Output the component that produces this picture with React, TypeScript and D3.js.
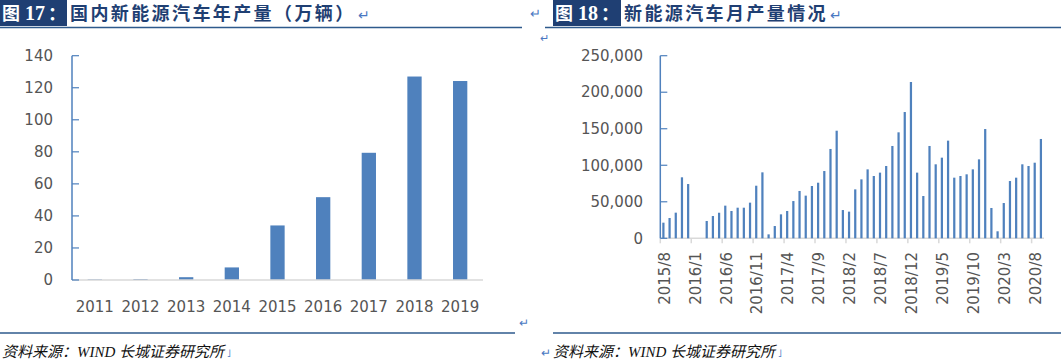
import React from "react";
import * as d3 from "d3";

// annual production, 10k vehicles
const years = ["2011", "2012", "2013", "2014", "2015", "2016", "2017", "2018", "2019"];
const yearValues = [0.4, 0.6, 1.75, 7.85, 34.05, 51.7, 79.4, 127.0, 124.2];
const yearTicks = [0, 20, 40, 60, 80, 100, 120, 140];

// monthly production, vehicles (2016/1 and 2016/2 have no data)
const months = [
  "2015/8", "2015/9", "2015/10", "2015/11", "2015/12",
  "2016/1", "2016/2", "2016/3", "2016/4", "2016/5", "2016/6", "2016/7", "2016/8", "2016/9", "2016/10", "2016/11", "2016/12",
  "2017/1", "2017/2", "2017/3", "2017/4", "2017/5", "2017/6", "2017/7", "2017/8", "2017/9", "2017/10", "2017/11", "2017/12",
  "2018/1", "2018/2", "2018/3", "2018/4", "2018/5", "2018/6", "2018/7", "2018/8", "2018/9", "2018/10", "2018/11", "2018/12",
  "2019/1", "2019/2", "2019/3", "2019/4", "2019/5", "2019/6", "2019/7", "2019/8", "2019/9", "2019/10", "2019/11", "2019/12",
  "2020/1", "2020/2", "2020/3", "2020/4", "2020/5", "2020/6", "2020/7", "2020/8", "2020/9",
];
const monthValues: (number | null)[] = [
  21400, 27800, 35100, 83500, 74300,
  null, null, 23700, 30500, 35000, 44700, 37400, 41900, 41900, 48800, 72000, 90300,
  5400, 16800, 32800, 37400, 51000, 64800, 58400, 71600, 76100, 92100, 122300, 147300,
  38700, 36500, 67000, 80700, 94400, 85300, 89900, 99000, 126400, 145100, 172900, 214000,
  89900, 57900, 126400, 101300, 110400, 133700, 83000, 85300, 87600, 94400, 108100, 149600,
  41500, 9600, 48300, 78400, 83000, 101300, 99000, 103500, 136000,
];
const monthTicks = [0, 50000, 100000, 150000, 200000, 250000];
const monthLabelEvery = 5;

const barColor = "#4f81bd";
const axisBlue = "#4f81bd";
const gridGray = "#d9d9d9";
const labelGray = "#555555";
const navy = "#1f3f73";
const ruleBlue = "#2e5a8c";
const markBlue = "#4a78c2";
const chartFont = "'DejaVu Sans', sans-serif";
const cjkFont = "'Noto Sans CJK SC', sans-serif";

const TitleBar = ({ x, boxW, lineX0, lineX1, num, title }: any) => (
  <g>
    <rect x={x} y={0} width={boxW} height={26} fill={navy} />
    <text x={x + 2} y={20} fill="#fff" fontFamily={cjkFont} fontWeight="bold" fontSize={18}>
      图
      <tspan dx={5} fontFamily="'Liberation Serif', serif" fontSize={20}>{num}</tspan>
      <tspan dx={3}>：</tspan>
    </text>
    <text x={x + boxW + 3} y={20} fill={navy} fontFamily={cjkFont} fontWeight="bold" fontSize={18} letterSpacing={2.4}>
      {title}
      <tspan fill={markBlue} fontSize={14} fontWeight="normal" dx={2}>↵</tspan>
    </text>
    <line x1={lineX0} x2={lineX1} y1={27.5} y2={27.5} stroke={ruleBlue} strokeWidth={1.5} />
  </g>
);

const Source = ({ x }: any) => (
  <text x={x} y={357} fontFamily={"'Liberation Serif', " + cjkFont} fontStyle="italic" fontSize={15} fill="#111">
    资料来源：WIND 长城证券研究所
    <tspan fill={markBlue} fontSize={10} dx={3} fontStyle="normal">˩</tspan>
  </text>
);

const App = () => {
  // left chart scales
  const xL = d3.scaleBand<string>().domain(years).range([72, 483]).paddingInner(0.687).paddingOuter(0.3435);
  const yL = d3.scaleLinear().domain([0, 140]).range([280, 55.7]);

  // right chart scales
  const xR = d3.scaleBand<string>().domain(months).range([660.3, 1044]).paddingInner(0.64).paddingOuter(0.32);
  const yR = d3.scaleLinear().domain([0, 250000]).range([238.3, 55.7]);
  const fmt = d3.format(",");
  const stepR = xR.step();

  return (
    <svg width={1061} height={364} style={{ position: "absolute", left: 0, top: 0, background: "#fff" }}>
      <TitleBar x={0} boxW={67} lineX0={0} lineX1={522} num="17" title="国内新能源汽车年产量（万辆）" />
      <text x={530} y={18} fill={markBlue} fontSize={13} fontFamily={cjkFont}>↵</text>
      <TitleBar x={553} boxW={68} lineX0={545} lineX1={1061} num="18" title="新能源汽车月产量情况" />
      <text x={540} y={42} fill={markBlue} fontSize={11} fontFamily={cjkFont}>↵</text>

      {/* left: annual bars */}
      <g fontFamily={chartFont} fontSize={15} fill={labelGray}>
        {years.map((yr, i) => (
          <rect key={yr} x={xL(yr)} y={yL(yearValues[i])} width={xL.bandwidth()} height={yL(0) - yL(yearValues[i])} fill={barColor} />
        ))}
        <line x1={72} x2={483} y1={yL(0)} y2={yL(0)} stroke={gridGray} strokeWidth={1.5} />
        <line x1={72} x2={72} y1={yL(0)} y2={yL(140)} stroke={axisBlue} strokeWidth={1.5} />
        {yearTicks.map((t) => (
          <g key={t}>
            <line x1={72} x2={79} y1={yL(t)} y2={yL(t)} stroke={axisBlue} strokeWidth={1.2} />
            <text x={53} y={yL(t)} dy="0.35em" textAnchor="end">{t}</text>
          </g>
        ))}
        {years.map((yr) => (
          <text key={yr} x={xL(yr)! + xL.bandwidth() / 2} y={312} textAnchor="middle">{yr}</text>
        ))}
      </g>

      {/* right: monthly bars */}
      <g fontFamily={chartFont} fontSize={15} fill={labelGray}>
        <line x1={660.3} x2={1044} y1={yR(0)} y2={yR(0)} stroke={gridGray} strokeWidth={1.5} />
        {months.map((m, i) =>
          monthValues[i] == null ? null : (
            <rect key={m} x={xR(m)} y={yR(monthValues[i]!)} width={xR.bandwidth()} height={yR(0) - yR(monthValues[i]!)} fill={barColor} />
          )
        )}
        {months.map((m, i) =>
          i % monthLabelEvery === 0 ? (
            <g key={m}>
              <line x1={xR(m)! - (stepR - xR.bandwidth()) / 2} x2={xR(m)! - (stepR - xR.bandwidth()) / 2} y1={yR(0)} y2={yR(0) + 5} stroke={gridGray} strokeWidth={1.5} />
              <text transform={`translate(${xR(m)! + xR.bandwidth() / 2 + 1},252) rotate(-90)`} dy="0.35em" textAnchor="end">{m}</text>
            </g>
          ) : null
        )}
        <line x1={660.3} x2={660.3} y1={yR(0)} y2={yR(250000)} stroke={axisBlue} strokeWidth={1.5} />
        {monthTicks.map((t) => (
          <g key={t}>
            <line x1={660.3} x2={667.3} y1={yR(t)} y2={yR(t)} stroke={axisBlue} strokeWidth={1.2} />
            <text x={643} y={yR(t)} dy="0.35em" textAnchor="end">{fmt(t)}</text>
          </g>
        ))}
      </g>

      {/* footers */}
      <text x={519} y={327} fill={markBlue} fontSize={12} fontFamily={cjkFont}>↵</text>
      <line x1={0} x2={515} y1={333} y2={333} stroke={ruleBlue} strokeWidth={1.5} />
      <line x1={553} x2={1061} y1={333} y2={333} stroke={ruleBlue} strokeWidth={1.5} />
      <Source x={2} />
      <text x={541} y={357} fill={markBlue} fontSize={12} fontFamily={cjkFont}>↵</text>
      <Source x={553} />
    </svg>
  );
};

export default App;
